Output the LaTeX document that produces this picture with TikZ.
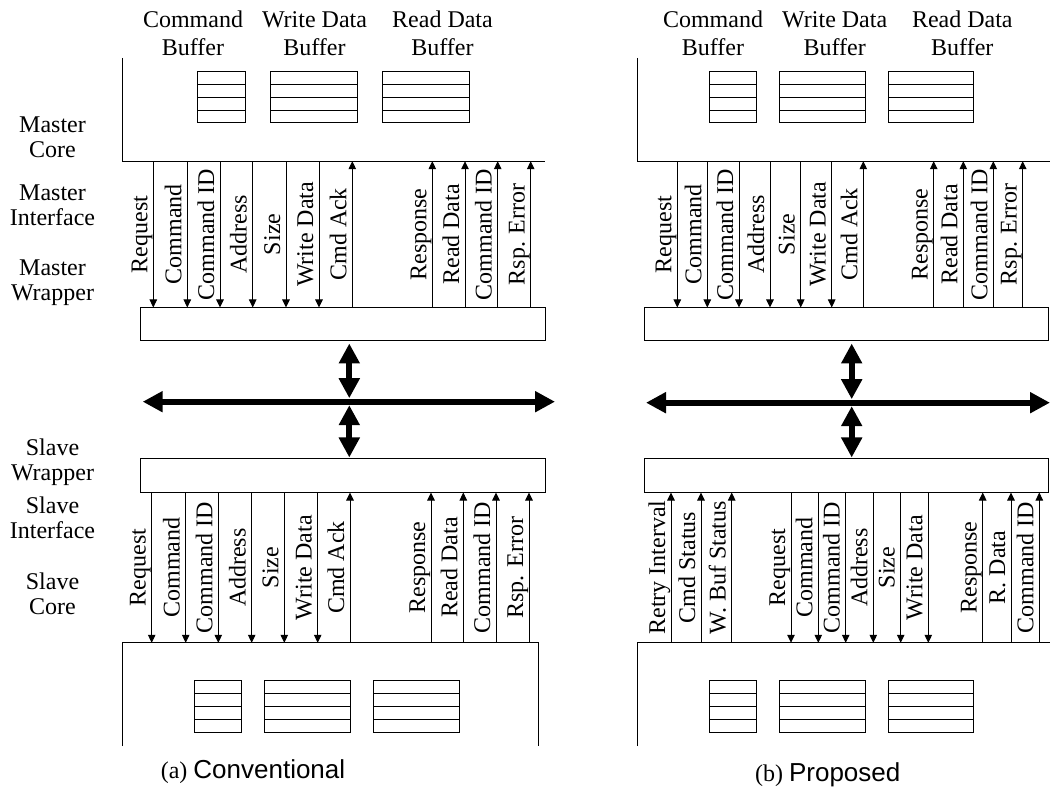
\documentclass[tikz,border=0pt]{standalone}
\usepackage{fontspec}
\setmainfont{Liberation Serif}
\newfontfamily\capsans{Liberation Sans}
\usetikzlibrary{arrows.meta,calc}

% one group of signal wires between an upper and a lower block
% #1 upper anchor, #2 lower anchor, #3 name prefix, #4 list x/label/style
\newcommand\siggroup[4]{%
  \foreach \sx/\slbl/\ssty [count=\si] in {#4} {%
    \path (#1 -| \sx,0) coordinate (#3t\si) (#2 -| \sx,0) coordinate (#3b\si);
    \draw[\ssty] (#3t\si) -- (#3b\si);
    \node[siglabel] (#3l\si) at ($(#3t\si)!0.5!(#3b\si)+(-6,0)$) {\slbl};
  }%
}

\begin{document}
\begin{tikzpicture}[x=1pt,y=-1pt,
  every node/.style={inner sep=0pt},
  wire/.style={line width=1pt},
  sigdn/.style={wire,-{Triangle[length=8pt,width=7.5pt]}},
  sigup/.style={wire,{Triangle[length=8pt,width=7.5pt]}-},
  siglabel/.style={rotate=90,anchor=base,font=\fontsize{24}{25}\selectfont},
  layer/.style={align=center,anchor=north,font=\fontsize{24}{25}\selectfont},
  buflabel/.style={align=center,anchor=north,font=\fontsize{24}{28}\selectfont},
  wrapper/.style={draw,line width=1pt,minimum height=33pt},
  outline/.style={minimum height=103pt},
  fifo/.style={draw,line width=1pt,minimum height=51pt,
    path picture={
      \foreach \f in {0.25,0.5,0.75}
        \draw[line width=1pt]
          ($(path picture bounding box.south west)!\f!(path picture bounding box.north west)$) --
          ($(path picture bounding box.south east)!\f!(path picture bounding box.north east)$);
    }},
  bus/.style={line width=6pt,
    {Triangle[length=20pt,width=20pt]}-{Triangle[length=20pt,width=20pt]}},
  caption/.style={anchor=base}
]
\useasboundingbox (0,0) rectangle (1050,791);

% ---------- layer names ----------
\node[layer] (lmc) at (52.5,116.7) {Master\\Core};
\node[layer] (lmi) at (52.5,185)   {Master\\Interface};
\node[layer] (lmw) at (52.5,259.3) {Master\\Wrapper};
\node[layer] (lsw) at (52.5,438.3) {Slave\\Wrapper};
\node[layer] (lsi) at (52.5,496.7) {Slave\\Interface};
\node[layer] (lsc) at (52.5,572.7) {Slave\\Core};

% ---------- (a) conventional ----------
\node[outline,minimum width=422pt] (mcA) at (334,109.5) {};
\draw[wire] (mcA.north west) -- (mcA.south west) -- (mcA.south east);
\node[buflabel] (blA1) at (193,11)    {Command\\Buffer};
\node[buflabel] (blA2) at (314.5,11)  {Write Data\\Buffer};
\node[buflabel] (blA3) at (442.5,11)  {Read Data\\Buffer};
\node[fifo,minimum width=48pt] (mbA1) at (221,97.5) {};
\node[fifo,minimum width=87pt] (mbA2) at (313.5,97.5) {};
\node[fifo,minimum width=87pt] (mbA3) at (425.5,97.5) {};

\node[wrapper,minimum width=405pt] (mwA) at (342.5,324.5) {};
\node[wrapper,minimum width=405pt] (swA) at (342.5,475.5) {};

\node[outline,minimum width=415pt] (scA) at (330.5,694.5) {};
\draw[wire] (scA.south west) -- (scA.north west) -- (scA.north east) -- (scA.south east);
\node[fifo,minimum width=46.7pt,minimum height=51.7pt] (sbA1) at (218.3,706.8) {};
\node[fifo,minimum width=85.7pt,minimum height=51.7pt] (sbA2) at (307.8,706.8) {};
\node[fifo,minimum width=85.7pt,minimum height=51.7pt] (sbA3) at (416.2,706.8) {};

\siggroup{mcA.south}{mwA.north}{mA}{153.3/Request/sigdn, 187.3/Command/sigdn,
  220/Command ID/sigdn, 252.7/Address/sigdn, 286/Size/sigdn, 319/Write Data/sigdn,
  352.3/Cmd Ack/sigup, 432.3/Response/sigup, 465/Read Data/sigup,
  497.7/Command ID/sigup, 530.7/Rsp. Error/sigup}
\siggroup{swA.south}{scA.north}{sA}{151.7/Request/sigdn, 185.7/Command/sigdn,
  218.3/Command ID/sigdn, 251.7/Address/sigdn, 284.3/Size/sigdn, 317.7/Write Data/sigdn,
  350/Cmd Ack/sigup, 431/Response/sigup, 463.3/Read Data/sigup,
  496/Command ID/sigup, 529/Rsp. Error/sigup}

% bus
\coordinate (busAc) at (349.3,401.7);
\coordinate (busAl) at (142.7,401.7);
\coordinate (busAr) at (555,401.7);
\draw[bus] (busAl) -- (busAr);
\draw[bus,shorten <=2pt,shorten >=3.5pt] (mwA.south -| busAc) -- (busAc);
\draw[bus,shorten <=3.5pt,shorten >=1pt] (busAc) -- (swA.north -| busAc);

\node[caption] (capA) at (253,778.3)
  {\fontsize{24}{24}\selectfont (a) {\capsans\fontsize{26}{26}\selectfont Conventional}};

% ---------- (b) proposed ----------
\node[outline,minimum width=412.5pt] (mcB) at (843.75,109.5) {};
\draw[wire] (mcB.north west) -- (mcB.south west) -- (mcB.south east);
\node[buflabel] (blB1) at (713,11)    {Command\\Buffer};
\node[buflabel] (blB2) at (834.7,11)  {Write Data\\Buffer};
\node[buflabel] (blB3) at (962.3,11)  {Read Data\\Buffer};
\node[fifo,minimum width=46.7pt] (mbB1) at (733.3,97.5) {};
\node[fifo,minimum width=85.7pt] (mbB2) at (822.8,97.5) {};
\node[fifo,minimum width=85pt]   (mbB3) at (930.8,97.5) {};

\node[wrapper,minimum width=404pt] (mwB) at (846,324.5) {};
\node[wrapper,minimum width=404pt] (swB) at (846,475.5) {};

\node[outline,minimum width=412.3pt] (scB) at (843.85,694.5) {};
\draw[wire] (scB.south west) -- (scB.north west) -- (scB.north east);
\node[fifo,minimum width=46.7pt,minimum height=51.7pt] (sbB1) at (733.3,706.8) {};
\node[fifo,minimum width=85.7pt,minimum height=51.7pt] (sbB2) at (822.8,706.8) {};
\node[fifo,minimum width=85.7pt,minimum height=51.7pt] (sbB3) at (931.1,706.8) {};

\siggroup{mcB.south}{mwB.north}{mB}{677.3/Request/sigdn, 707.3/Command/sigdn,
  739/Command ID/sigdn, 770/Address/sigdn, 800.7/Size/sigdn, 831.7/Write Data/sigdn,
  863.3/Cmd Ack/sigup, 933.7/Response/sigup, 963.3/Read Data/sigup,
  993.3/Command ID/sigup, 1022.7/Rsp. Error/sigup}
\siggroup{swB.south}{scB.north}{sB}{671/Retry Interval/sigup, 701/Cmd Status/sigup,
  731.7/W. Buf Status/sigup, 791/Request/sigdn, 818.3/Command/sigdn,
  845.7/Command ID/sigdn, 873.3/Address/sigdn, 900.7/Size/sigdn,
  928.3/Write Data/sigdn, 982.7/Response/sigup, 1011/R. Data/sigup,
  1039.3/Command ID/sigup}

% bus
\coordinate (busBc) at (851.7,402.7);
\coordinate (busBl) at (646,402.7);
\coordinate (busBr) at (1050,402.7);
\draw[bus] (busBl) -- (busBr);
\draw[bus,shorten <=2pt,shorten >=3.5pt] (mwB.south -| busBc) -- (busBc);
\draw[bus,shorten <=3.5pt,shorten >=1pt] (busBc) -- (swB.north -| busBc);

\node[caption] (capB) at (827.7,781.7)
  {\fontsize{24}{24}\selectfont (b) {\capsans\fontsize{26}{26}\selectfont Proposed}};
\end{tikzpicture}
\end{document}
